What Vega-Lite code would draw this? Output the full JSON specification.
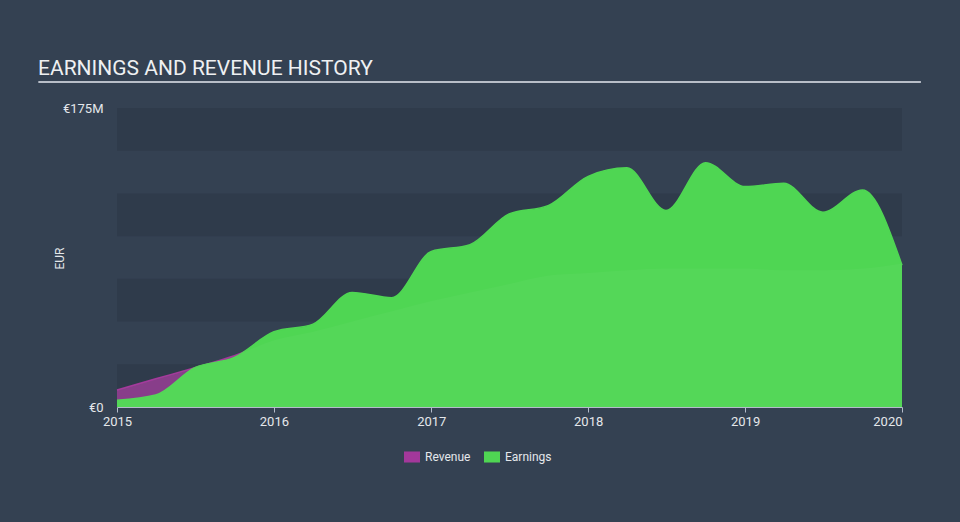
{
  "$schema": "https://vega.github.io/schema/vega-lite/v6.json",
  "width": 785,
  "height": 299,
  "autosize": {"type": "none"},
  "padding": {"left": 117, "top": 108, "right": 58, "bottom": 115},
  "background": "#344152",
  "config": {"view": {"stroke": null}, "font": "Roboto"},
  "title": {
    "text": "EARNINGS AND REVENUE HISTORY",
    "anchor": "start",
    "frame": "group",
    "dx": -79,
    "dy": 20,
    "offset": 5,
    "baseline": "alphabetic",
    "fontSize": 21,
    "fontWeight": "normal",
    "color": "#eef0f2"
  },
  "datasets": {
    "bands": [
      {"lo": 0, "hi": 25},
      {"lo": 50, "hi": 75},
      {"lo": 100, "hi": 125},
      {"lo": 150, "hi": 175}
    ],
    "history": [
      {"date": "2015-01-01", "series": "Revenue", "value": 10},
      {"date": "2015-04-01", "series": "Revenue", "value": 16.5},
      {"date": "2015-07-01", "series": "Revenue", "value": 23},
      {"date": "2015-10-01", "series": "Revenue", "value": 30},
      {"date": "2016-01-01", "series": "Revenue", "value": 39},
      {"date": "2016-04-01", "series": "Revenue", "value": 44},
      {"date": "2016-07-01", "series": "Revenue", "value": 50},
      {"date": "2016-10-01", "series": "Revenue", "value": 56},
      {"date": "2017-01-01", "series": "Revenue", "value": 62},
      {"date": "2017-04-01", "series": "Revenue", "value": 67},
      {"date": "2017-07-01", "series": "Revenue", "value": 72},
      {"date": "2017-10-01", "series": "Revenue", "value": 77},
      {"date": "2018-01-01", "series": "Revenue", "value": 78.5},
      {"date": "2018-04-01", "series": "Revenue", "value": 80},
      {"date": "2018-07-01", "series": "Revenue", "value": 81},
      {"date": "2018-10-01", "series": "Revenue", "value": 81},
      {"date": "2019-01-01", "series": "Revenue", "value": 81},
      {"date": "2019-04-01", "series": "Revenue", "value": 80},
      {"date": "2019-07-01", "series": "Revenue", "value": 80},
      {"date": "2019-10-01", "series": "Revenue", "value": 81},
      {"date": "2020-01-01", "series": "Revenue", "value": 84},
      {"date": "2015-01-01", "series": "Earnings", "value": 4},
      {"date": "2015-04-01", "series": "Earnings", "value": 7},
      {"date": "2015-07-01", "series": "Earnings", "value": 23},
      {"date": "2015-10-01", "series": "Earnings", "value": 29},
      {"date": "2016-01-01", "series": "Earnings", "value": 44},
      {"date": "2016-04-01", "series": "Earnings", "value": 48.5},
      {"date": "2016-07-01", "series": "Earnings", "value": 67},
      {"date": "2016-10-01", "series": "Earnings", "value": 64},
      {"date": "2017-01-01", "series": "Earnings", "value": 91},
      {"date": "2017-04-01", "series": "Earnings", "value": 95},
      {"date": "2017-07-01", "series": "Earnings", "value": 113},
      {"date": "2017-10-01", "series": "Earnings", "value": 118},
      {"date": "2018-01-01", "series": "Earnings", "value": 135},
      {"date": "2018-04-01", "series": "Earnings", "value": 140},
      {"date": "2018-07-01", "series": "Earnings", "value": 115},
      {"date": "2018-10-01", "series": "Earnings", "value": 143},
      {"date": "2019-01-01", "series": "Earnings", "value": 129},
      {"date": "2019-04-01", "series": "Earnings", "value": 131},
      {"date": "2019-07-01", "series": "Earnings", "value": 114},
      {"date": "2019-10-01", "series": "Earnings", "value": 127},
      {"date": "2020-01-01", "series": "Earnings", "value": 83}
    ]
  },
  "layer": [
    {
      "data": {"name": "bands"},
      "mark": {"type": "rect", "color": "#2f3b4b"},
      "encoding": {
        "y": {
          "field": "lo",
          "type": "quantitative",
          "scale": {"domain": [0, 175], "nice": false},
          "axis": {
            "title": "EUR",
            "titleX": -58,
            "titleY": 150,
            "titleAngle": -90,
            "titleAlign": "center",
            "titleBaseline": "middle",
            "titleColor": "#e4e7eb",
            "titleFontSize": 12,
            "titleFontWeight": "normal",
            "values": [0, 175],
            "labelExpr": "datum.value == 0 ? '€0' : '€' + datum.value + 'M'",
            "domain": false,
            "ticks": false,
            "grid": false,
            "labelPadding": 14,
            "labelColor": "#e4e7eb",
            "labelFontSize": 13
          }
        },
        "y2": {"field": "hi"}
      }
    },
    {
      "data": {"name": "history"},
      "transform": [{"filter": "datum.series == 'Revenue'"}],
      "mark": {"type": "area", "interpolate": "monotone", "fillOpacity": 0.75, "line": {"strokeWidth": 1.5}},
      "encoding": {
        "x": {"field": "date", "type": "temporal"},
        "y": {"field": "value", "type": "quantitative"},
        "color": {"field": "series", "type": "nominal"}
      }
    },
    {
      "data": {"name": "history"},
      "transform": [{"filter": "datum.series == 'Earnings'"}],
      "mark": {"type": "area", "interpolate": "monotone", "fillOpacity": 1, "line": {"strokeWidth": 1.5, "color": "#52e052"}},
      "encoding": {
        "x": {
          "field": "date",
          "type": "temporal",
          "scale": {"domain": ["2015-01-01", "2020-01-01"]},
          "axis": {
            "title": null,
            "format": "%Y",
            "tickCount": {"interval": "year", "step": 1},
            "grid": false,
            "domainColor": "#b4bccb",
            "tickColor": "#b4bccb",
            "tickSize": 5,
            "labelColor": "#e4e7eb",
            "labelFontSize": 13,
            "labelPadding": 3,
            "labelAlign": {"expr": "datum.value >= datetime(2019, 11, 1) ? 'right' : 'center'"}
          }
        },
        "y": {"field": "value", "type": "quantitative"},
        "color": {
          "field": "series",
          "type": "nominal",
          "scale": {"domain": ["Revenue", "Earnings"], "range": ["#a3389b", "#4fd653"]},
          "legend": {
            "title": null,
            "orient": "none",
            "direction": "horizontal",
            "legendX": 287,
            "legendY": 341,
            "padding": 0,
            "symbolType": "M-1,-0.69H1V0.69H-1Z",
            "symbolSize": 256,
            "symbolOpacity": 1,
            "symbolStrokeWidth": 0,
            "labelColor": "#e4e7eb",
            "labelFontSize": 12,
            "labelOffset": 5,
            "columnPadding": 13
          }
        }
      }
    },
    {
      "data": {"name": "history"},
      "transform": [{"filter": "datum.series == 'Revenue'"}],
      "mark": {"type": "area", "interpolate": "monotone", "color": "#ffffff", "fillOpacity": 0.03},
      "encoding": {
        "x": {"field": "date", "type": "temporal"},
        "y": {"field": "value", "type": "quantitative"}
      }
    },
    {
      "data": {"values": [{}]},
      "mark": {"type": "rule", "color": "#b8bec8", "strokeWidth": 2},
      "encoding": {
        "x": {"datum": {"year": 2014, "month": 7, "date": 2}, "type": "temporal"},
        "x2": {"datum": {"year": 2020, "month": 2, "date": 14}},
        "y": {"datum": 190.2, "type": "quantitative"}
      }
    }
  ]
}
